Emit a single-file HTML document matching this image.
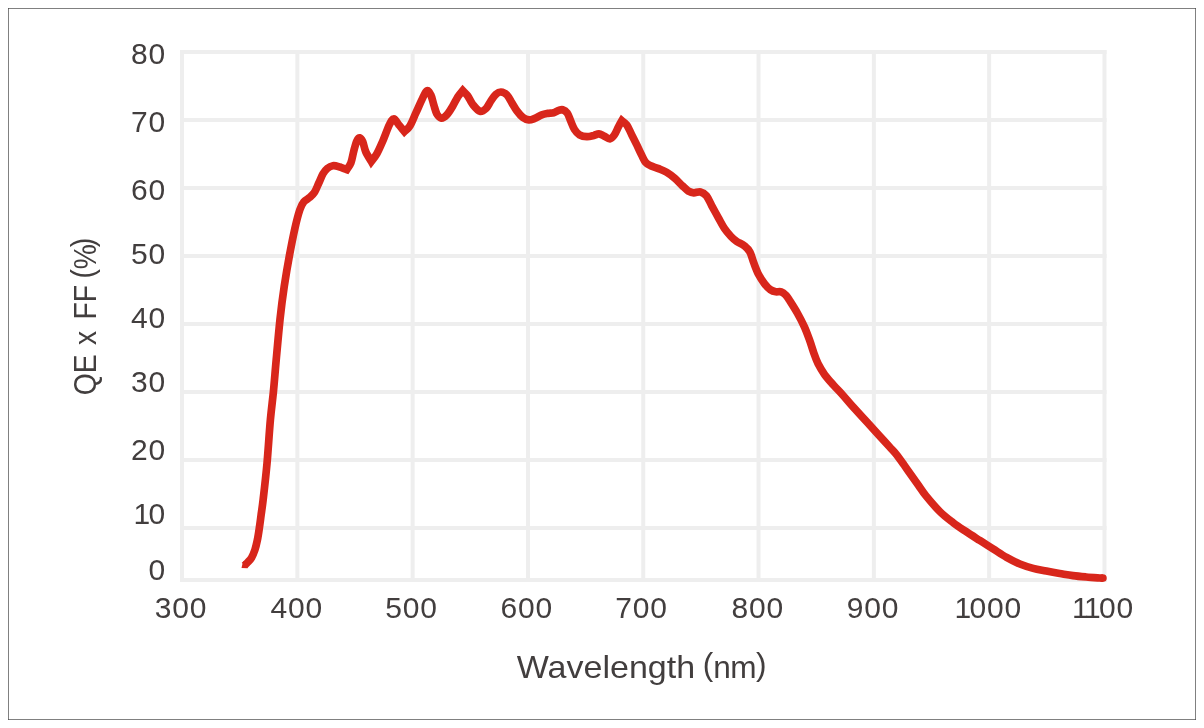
<!DOCTYPE html>
<html lang="en"><head><meta charset="utf-8"><title>QE x FF vs Wavelength</title>
<style>
html,body{margin:0;padding:0;background:#fff;}
body{width:1204px;height:728px;overflow:hidden;}
svg{display:block;}
text{font-family:"Liberation Sans",sans-serif;fill:#423e3e;}
.tick text{font-size:30px;letter-spacing:0.8px;}
.title{font-size:31.6px;}
.grid line{stroke:#eeeeee;stroke-width:4;}
</style></head><body>
<svg width="1204" height="728" viewBox="0 0 1204 728">
<rect x="0" y="0" width="1204" height="728" fill="#ffffff"/>
<g fill="#808080"><rect x="8" y="8" width="1188" height="1"/><rect x="8" y="719" width="1188" height="1"/><rect x="8" y="8" width="1" height="712"/><rect x="1195" y="8" width="1" height="712"/></g>
<g fill="#5a5a5a"><rect x="8" y="8" width="1" height="1"/><rect x="1195" y="8" width="1" height="1"/><rect x="8" y="719" width="1" height="1"/><rect x="1195" y="719" width="1" height="1"/></g>
<g class="grid"><line x1="182.05" y1="50.0" x2="182.05" y2="582.0"/><line x1="297.35" y1="50.0" x2="297.35" y2="582.0"/><line x1="412.65" y1="50.0" x2="412.65" y2="582.0"/><line x1="527.95" y1="50.0" x2="527.95" y2="582.0"/><line x1="643.25" y1="50.0" x2="643.25" y2="582.0"/><line x1="758.55" y1="50.0" x2="758.55" y2="582.0"/><line x1="873.85" y1="50.0" x2="873.85" y2="582.0"/><line x1="989.15" y1="50.0" x2="989.15" y2="582.0"/><line x1="1104.45" y1="50.0" x2="1104.45" y2="582.0"/><line x1="180.0" y1="52.0" x2="1106.5" y2="52.0"/><line x1="180.0" y1="120.0" x2="1106.5" y2="120.0"/><line x1="180.0" y1="188.0" x2="1106.5" y2="188.0"/><line x1="180.0" y1="256.0" x2="1106.5" y2="256.0"/><line x1="180.0" y1="324.0" x2="1106.5" y2="324.0"/><line x1="180.0" y1="392.0" x2="1106.5" y2="392.0"/><line x1="180.0" y1="460.0" x2="1106.5" y2="460.0"/><line x1="180.0" y1="528.0" x2="1106.5" y2="528.0"/><line x1="180.0" y1="580.0" x2="1106.5" y2="580.0"/></g>
<path d="M244.5 565.5C245.0 565.0 246.3 563.8 247.5 562.5C248.7 561.2 250.3 559.9 251.5 557.8C252.7 555.7 253.9 552.9 254.9 549.9C255.9 546.9 256.6 543.7 257.4 539.9C258.2 536.1 258.9 531.0 259.5 526.9C260.1 522.8 260.5 519.5 261.1 515.0C261.7 510.5 262.1 508.6 263.1 500.0C264.1 491.4 265.8 476.9 267.0 463.5C268.2 450.1 269.3 431.6 270.4 419.7C271.5 407.8 272.4 401.8 273.4 391.8C274.4 381.8 275.1 371.9 276.2 359.9C277.3 347.8 278.7 331.7 280.0 319.5C281.3 307.3 282.6 297.2 284.2 286.6C285.8 276.0 287.6 265.3 289.4 255.7C291.2 246.1 293.1 236.4 294.8 228.8C296.5 221.2 298.3 214.4 299.8 209.9C301.3 205.4 302.1 204.0 303.8 201.9C305.5 199.8 308.0 199.0 309.8 197.3C311.6 195.7 313.2 194.4 314.7 192.0C316.2 189.6 317.4 186.0 318.8 183.0C320.2 180.0 321.5 176.3 322.9 173.9C324.3 171.5 325.7 169.8 327.4 168.4C329.1 167.0 331.0 166.0 332.9 165.7C334.8 165.4 336.6 166.0 338.9 166.7C341.2 167.3 345.5 169.1 346.8 169.6C347.5 168.5 349.7 166.0 350.9 162.9C352.1 159.8 352.8 154.6 353.8 150.9C354.8 147.2 355.8 143.2 356.8 141.0C357.8 138.8 358.8 137.7 359.8 137.8C360.8 138.0 361.8 139.6 362.8 141.9C363.8 144.2 364.4 148.7 365.8 151.9C367.2 155.2 370.4 159.8 371.3 161.4C372.2 160.2 374.9 157.3 376.8 153.9C378.7 150.5 380.7 145.8 382.8 141.0C384.9 136.2 387.5 128.6 389.3 124.9C391.1 121.2 392.3 118.9 393.9 118.9C395.5 118.9 397.1 122.8 398.9 124.9C400.6 127.0 403.5 130.4 404.4 131.5C405.3 130.6 408.0 129.0 409.9 125.9C411.8 122.8 413.9 117.2 415.9 112.9C417.9 108.6 420.0 103.6 421.8 99.9C423.6 96.2 425.3 91.6 426.8 90.8C428.3 90.0 429.6 92.6 430.8 94.9C432.0 97.2 432.8 101.7 433.8 104.9C434.8 108.1 435.6 111.7 436.8 113.9C438.1 116.1 439.6 117.9 441.3 118.1C443.0 118.3 444.9 116.9 446.8 114.9C448.7 112.9 451.0 108.9 452.8 105.9C454.6 102.9 456.1 99.5 457.7 96.9C459.3 94.4 461.9 91.6 462.7 90.6C463.5 91.5 466.0 93.6 467.7 95.9C469.4 98.2 470.6 101.8 472.7 104.4C474.8 107.0 477.7 110.7 480.0 111.3C482.3 111.9 484.5 109.9 486.3 108.2C488.1 106.5 489.3 103.2 490.9 100.9C492.5 98.6 494.2 95.9 495.9 94.4C497.6 92.9 499.1 91.9 500.9 92.0C502.7 92.1 505.1 93.1 506.9 94.9C508.7 96.7 510.2 100.2 511.9 102.9C513.6 105.6 515.1 108.5 516.9 110.9C518.7 113.3 520.8 115.9 522.8 117.4C524.8 118.9 526.8 119.7 528.8 119.9C530.8 120.1 532.6 119.2 534.8 118.4C537.0 117.6 539.6 115.7 541.8 114.9C544.0 114.1 545.8 113.8 547.8 113.4C549.8 113.0 551.9 113.2 553.7 112.7C555.5 112.2 557.2 110.9 558.7 110.4C560.2 109.9 561.3 109.3 562.7 109.7C564.1 110.1 565.9 111.1 567.2 112.9C568.5 114.7 569.3 117.7 570.5 120.5C571.7 123.3 573.0 127.1 574.5 129.5C576.0 131.9 577.4 133.6 579.5 134.8C581.6 136.0 584.5 136.6 586.9 136.7C589.3 136.8 591.9 135.9 593.9 135.4C595.9 134.9 597.2 133.8 598.9 133.9C600.6 134.0 602.1 135.1 603.9 135.9C605.7 136.7 608.1 139.1 609.9 138.9C611.6 138.7 613.0 136.9 614.4 134.9C615.8 132.9 617.2 129.3 618.4 126.9C619.6 124.5 621.2 121.7 621.8 120.7C622.6 121.4 625.1 122.5 626.8 124.9C628.5 127.3 630.1 131.6 631.8 134.9C633.5 138.2 635.2 141.6 636.8 144.9C638.4 148.2 640.1 152.1 641.6 155.0C643.1 157.9 644.0 160.4 645.5 162.2C647.0 164.0 648.5 164.7 650.7 165.8C652.9 166.9 656.0 167.5 658.6 168.6C661.2 169.7 663.9 170.7 666.6 172.3C669.3 173.9 672.0 175.9 674.6 178.2C677.2 180.5 680.2 183.7 682.5 185.9C684.8 188.1 686.6 190.0 688.5 191.2C690.4 192.3 691.8 192.7 693.8 192.8C695.8 192.9 698.4 191.4 700.5 191.9C702.6 192.4 704.5 193.5 706.4 195.8C708.3 198.1 709.8 202.1 711.8 205.8C713.8 209.5 716.3 214.0 718.4 217.8C720.5 221.6 722.3 225.3 724.4 228.4C726.5 231.5 729.0 234.3 731.0 236.5C733.0 238.7 734.3 239.7 736.6 241.3C738.9 242.9 742.4 244.1 744.6 245.9C746.8 247.7 748.4 249.0 749.9 251.9C751.4 254.8 752.4 259.4 753.9 263.2C755.4 267.0 756.8 271.1 758.6 274.5C760.4 277.9 762.6 281.2 764.6 283.8C766.6 286.4 768.6 288.5 770.5 289.8C772.4 291.1 774.0 291.5 775.8 291.8C777.6 292.1 779.5 291.2 781.2 291.8C782.9 292.4 784.4 293.7 785.8 295.1C787.1 296.5 787.3 297.0 789.3 300.0C791.2 303.0 795.0 308.9 797.5 313.3C800.0 317.7 802.3 322.2 804.3 326.6C806.3 331.0 807.9 335.5 809.5 339.9C811.1 344.3 812.5 349.2 813.9 353.2C815.3 357.2 816.3 360.3 818.1 363.8C819.9 367.3 822.0 370.9 824.5 374.4C827.0 377.9 830.4 381.6 833.4 385.0C836.4 388.4 839.4 391.3 842.7 395.0C846.0 398.7 849.3 402.8 853.3 407.2C857.3 411.6 862.1 416.8 866.6 421.7C871.1 426.6 876.4 432.4 880.2 436.6C884.1 440.8 887.0 444.0 889.7 447.0C892.4 450.0 894.1 451.6 896.5 454.6C898.9 457.6 901.6 461.5 904.0 464.9C906.4 468.3 908.7 471.5 911.1 474.9C913.5 478.3 915.9 481.7 918.4 485.2C920.9 488.7 922.4 491.5 926.0 495.9C929.6 500.3 935.4 507.1 939.9 511.6C944.4 516.1 948.8 519.3 953.2 522.7C957.6 526.1 961.9 528.8 966.4 531.8C970.9 534.8 975.5 537.7 980.0 540.6C984.5 543.5 988.9 546.2 993.3 549.0C997.7 551.8 1002.2 554.9 1006.6 557.4C1011.0 559.9 1015.5 562.2 1019.9 564.0C1024.3 565.8 1028.8 567.2 1033.2 568.4C1037.6 569.6 1042.0 570.2 1046.4 571.1C1050.8 572.0 1055.3 572.8 1059.7 573.5C1064.1 574.2 1068.6 575.0 1073.0 575.6C1077.4 576.2 1081.9 576.6 1086.3 577.0C1090.7 577.4 1096.8 577.8 1099.6 578.0C1102.4 578.2 1102.4 578.1 1102.9 578.1" fill="none" stroke="#d8261b" stroke-width="7.7" stroke-linejoin="miter" stroke-miterlimit="6" stroke-linecap="butt"/>
<circle cx="1102.9" cy="578.1" r="3.85" fill="#d8261b"/>
<polygon points="241.5,567.9 243.1,561.2 248,563 247.4,568.2" fill="#d8261b"/>
<g class="tick"><text x="166.0" y="64.0" text-anchor="end">80</text><text x="166.0" y="132.3" text-anchor="end">70</text><text x="166.0" y="200.1" text-anchor="end">60</text><text x="166.0" y="264.2" text-anchor="end">50</text><text x="166.0" y="328.2" text-anchor="end">40</text><text x="166.0" y="392.3" text-anchor="end">30</text><text x="166.0" y="460.0" text-anchor="end">20</text><text x="166.0" y="524.1" text-anchor="end" dx="0.0 -2.6">10</text><text x="166.0" y="580.2" text-anchor="end">0</text><text x="180.9" y="618.3" text-anchor="middle">300</text><text x="296.8" y="618.3" text-anchor="middle">400</text><text x="411.6" y="618.3" text-anchor="middle">500</text><text x="526.8" y="618.3" text-anchor="middle">600</text><text x="641.5" y="618.3" text-anchor="middle">700</text><text x="757.8" y="618.3" text-anchor="middle">800</text><text x="873.0" y="618.3" text-anchor="middle">900</text><text x="988.2" y="618.3" text-anchor="middle" dx="0.0 -2.6 0.0 0.0">1000</text><text x="1103.0" y="618.3" text-anchor="middle" dx="0.0 -3.2 -2.6 0.0">1100</text></g>
<text class="title" x="516.7" y="678.1"><tspan textLength="178.5" lengthAdjust="spacingAndGlyphs">Wavelength</tspan> <tspan x="702.7" dy="-3.3" textLength="10.5" lengthAdjust="spacingAndGlyphs">(</tspan><tspan dy="3.3" letter-spacing="-0.6">nm</tspan><tspan dy="-3.3">)</tspan></text>
<text class="title" transform="translate(95.9 395.2) rotate(-90) scale(0.896 1)">QE <tspan dx="1.6">x</tspan> <tspan dx="3.9">FF</tspan> <tspan dx="-1.6" dy="-3.3">(</tspan><tspan dx="-0.3" dy="3.3">%</tspan><tspan dx="-3.5" dy="-3.3">)</tspan></text>
</svg>
</body></html>
